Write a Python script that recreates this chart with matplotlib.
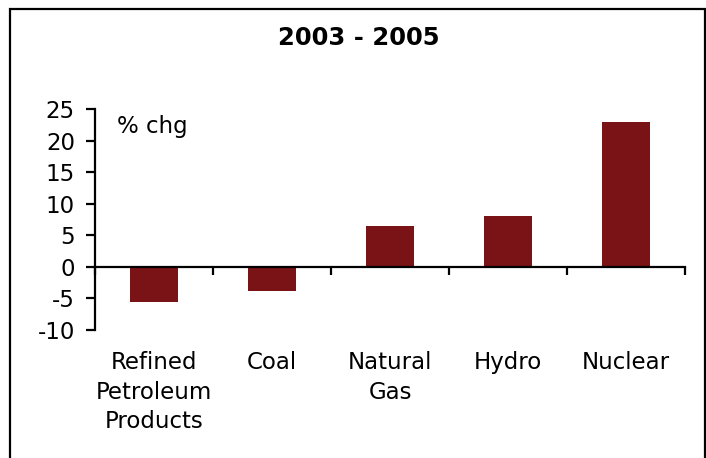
import matplotlib
matplotlib.use("Agg")
import matplotlib.pyplot as plt
from matplotlib.patches import Rectangle

# Data
categories = ["Refined\nPetroleum\nProducts", "Coal", "Natural\nGas", "Hydro", "Nuclear"]
pct_change = [-5.5, -3.8, 6.4, 8.1, 22.9]
y_ticks = [-10, -5, 0, 5, 10, 15, 20, 25]

bar_color = "#7a1315"
plt.rcParams["font.family"] = "DejaVu Sans"

fig = plt.figure(figsize=(7.06, 4.58), dpi=100)
ax = fig.add_axes([0.1346, 0.2795, 0.8357, 0.4825])

x = list(range(len(categories)))
ax.bar(x, pct_change, width=0.41, color=bar_color, zorder=1)

ax.set_xlim(-0.5, len(categories) - 0.5)
ax.set_ylim(-10, 25)
ax.set_yticks(y_ticks)
ax.set_yticklabels([str(t) for t in y_ticks], fontsize=16.5)

# x axis sits at zero, ticks mark the category boundaries
ax.spines["bottom"].set_position(("data", 0))
ax.spines["top"].set_visible(False)
ax.spines["right"].set_visible(False)
for s in ("left", "bottom"):
    ax.spines[s].set_linewidth(1.6)
    ax.spines[s].set_zorder(3)
ax.set_xticks([i - 0.5 for i in range(len(categories) + 1)])
ax.set_xticklabels([])
ax.tick_params(axis="x", direction="out", length=6, width=1.6)
ax.tick_params(axis="y", direction="out", length=6.5, width=1.6, pad=8)

for i, lab in enumerate(categories):
    ax.text(i, -13.4, lab, ha="center", va="top", fontsize=16.5, linespacing=1.34)

ax.text(0.037, 0.92, "% chg", transform=ax.transAxes, fontsize=16.5,
        ha="left", va="center")

fig.text(0.5085, 0.916, "2003 - 2005", ha="center", va="center",
         fontsize=17.5, fontweight="bold")

# outer frame (bottom edge falls outside the picture)
fig.add_artist(Rectangle((10 / 706, -0.1), 695 / 706, 0.1 + 449 / 458,
                         transform=fig.transFigure, fill=False,
                         linewidth=1.6, edgecolor="black", clip_on=False))

fig.savefig("out.png", dpi=100)
